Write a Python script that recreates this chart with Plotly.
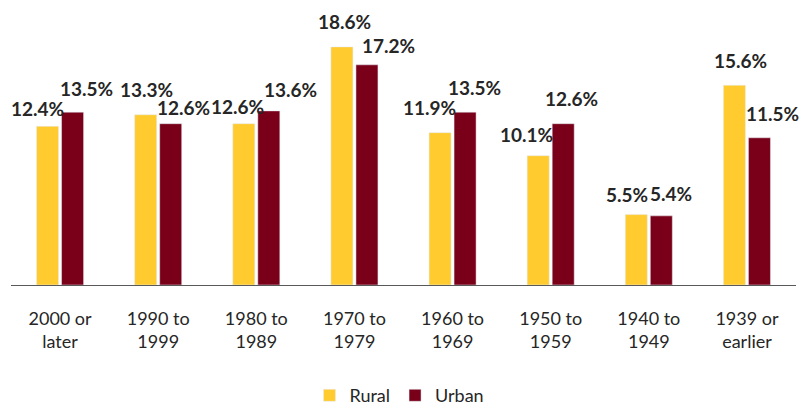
import plotly.graph_objects as go

categories = ["2000 or<br>later", "1990 to<br>1999", "1980 to<br>1989", "1970 to<br>1979",
              "1960 to<br>1969", "1950 to<br>1959", "1940 to<br>1949", "1939 or<br>earlier"]
rural = [12.4, 13.3, 12.6, 18.6, 11.9, 10.1, 5.5, 15.6]
urban = [13.5, 12.6, 13.6, 17.2, 13.5, 12.6, 5.4, 11.5]

# label offsets (px) relative to bar centre / bar top, style only
rural_dx = [-9, 2, -5, 4, -9, -10, -8, 8]
urban_dx = [12, 11, 20, 20, 8, 7, 8, 12]
rural_dy = [18, 25, 17, 25, 25, 21, 20, 25]
urban_dy = [24, 16, 21, 19, 25, 25, 22, 24]

GOLD = "#FFCB2F"
MAROON = "#7A0019"
FONT = "Lato, 'Open Sans', sans-serif"

fig = go.Figure()
fig.add_bar(x=categories, y=rural, name="Rural", marker_color=GOLD)
fig.add_bar(x=categories, y=urban, name="Urban", marker_color=MAROON)

bar_off = 14  # half-distance between bar centres (px)
for i, c in enumerate(categories):
    fig.add_annotation(x=c, y=rural[i], text=f"{rural[i]:.1f}%", showarrow=False,
                       xshift=-bar_off + rural_dx[i], yshift=rural_dy[i], yanchor="middle",
                       font=dict(family=FONT, size=19, color="#262626", weight="bold"))
    fig.add_annotation(x=c, y=urban[i], text=f"{urban[i]:.1f}%", showarrow=False,
                       xshift=bar_off + urban_dx[i], yshift=urban_dy[i], yanchor="middle",
                       font=dict(family=FONT, size=19, color="#262626", weight="bold"))

fig.update_layout(
    width=799, height=407,
    margin=dict(l=11, r=3, t=20, b=122, autoexpand=False),
    barmode="group", bargap=0.49, bargroupgap=0.12,
    plot_bgcolor="white", paper_bgcolor="white",
    font=dict(family=FONT, size=18, color="#262626"),
    showlegend=True,
    legend=dict(orientation="h", x=0.5, xanchor="center", xref="container",
                y=0.028, yanchor="middle", yref="container",
                font=dict(size=18, color="#262626"), itemwidth=30),
    xaxis=dict(range=[-0.5, 7.5], showline=True, linecolor="#595959", linewidth=1, ticks="",
               tickfont=dict(size=18, color="#262626"), ticklabelstandoff=17),
    yaxis=dict(range=[0, 20.7], visible=False, showgrid=False, zeroline=False),
)

fig.write_html("out.html", config={"displayModeBar": False},
               post_script="document.body.style.margin='0';document.body.style.overflow='hidden';")
